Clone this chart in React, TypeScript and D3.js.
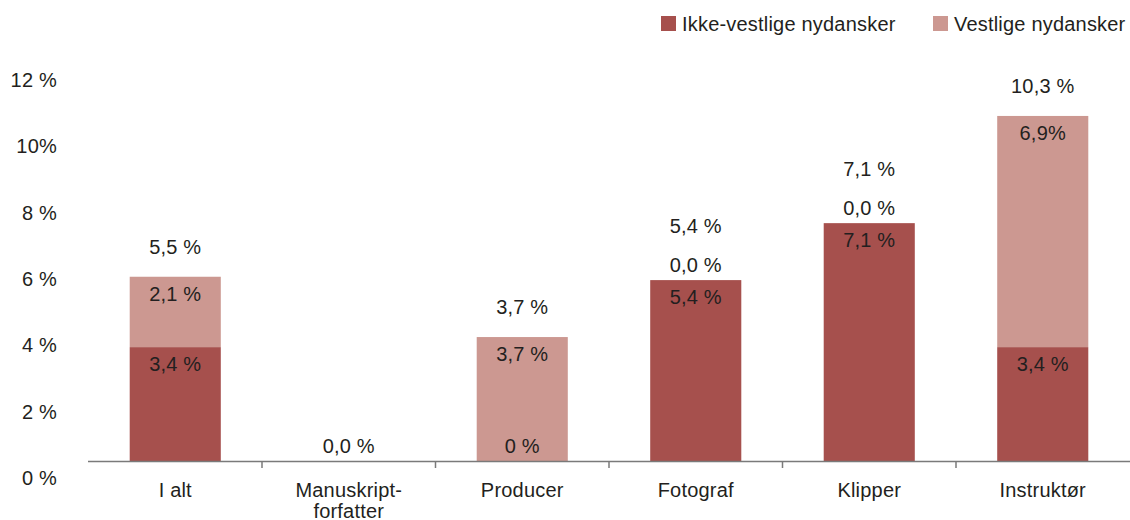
import React from "react";
import * as d3 from "d3";

const categories = ["I alt", "Manuskript-\nforfatter", "Producer", "Fotograf", "Klipper", "Instruktør"];
const ikkeVestlige = [3.4, 0, 0, 5.4, 7.1, 3.4];
const vestlige = [2.1, 0, 3.7, 0, 0, 6.9];
const ikkeLabels: (string | null)[] = ["3,4 %", null, "0 %", "5,4 %", "7,1 %", "3,4 %"];
const vestLabels: (string | null)[] = ["2,1 %", "0,0 %", "3,7 %", "0,0 %", "0,0 %", "6,9%"];
const totalLabels: (string | null)[] = ["5,5 %", null, "3,7 %", "5,4 %", "7,1 %", "10,3 %"];
const yTicks = [0, 2, 4, 6, 8, 10, 12];
const yTickLabels = ["0 %", "2 %", "4 %", "6 %", "8 %", "10%", "12 %"];
const seriesNames = ["Ikke-vestlige nydansker", "Vestlige nydansker"];
const colors = ["#a6504d", "#cc9891"];

const W = 1130;
const H = 520;
const FONT = "'Liberation Sans', Arial, sans-serif";
const TXT = "#231f20";
const FS = 20;
const LS = 0.2;

export default function App() {
  const x = d3
    .scaleBand<string>()
    .domain(categories)
    .range([88.5, 1129.5])
    .paddingInner(0.475)
    .paddingOuter(0.2375);
  const y = d3.scaleLinear().domain([0, 12]).range([461, 59]);
  const yLabel = d3.scaleLinear().domain([0, 12]).range([478, 80]);
  const bw = x.bandwidth();
  const base = y(0);

  const boundaries: number[] = [];
  for (let i = 0; i < categories.length - 1; i++) {
    const a = x(categories[i])! + bw;
    const b = x(categories[i + 1])!;
    boundaries.push((a + b) / 2);
  }

  const T = (props: any) => (
    <text
      dominantBaseline="central"
      fontSize={FS}
      letterSpacing={LS}
      fill={TXT}
      {...props}
    />
  );

  return (
    <svg
      width={W}
      height={H}
      style={{ position: "absolute", left: 0, top: 0, background: "#fff" }}
      fontFamily={FONT}
    >
      {/* y tick labels */}
      {yTicks.map((t, i) => (
        <T key={t} x={57} y={yLabel(t)} textAnchor="end">
          {yTickLabels[i]}
        </T>
      ))}

      {/* bars */}
      {categories.map((c, i) => {
        const x0 = x(c)!;
        const a = ikkeVestlige[i];
        const b = vestlige[i];
        return (
          <g key={c}>
            {a > 0 && (
              <rect x={x0} y={y(a)} width={bw} height={base - y(a)} fill={colors[0]} />
            )}
            {b > 0 && (
              <rect x={x0} y={y(a + b)} width={bw} height={y(a) - y(a + b)} fill={colors[1]} />
            )}
          </g>
        );
      })}

      {/* axis */}
      <line x1={88} x2={1130} y1={base + 0.5} y2={base + 0.5} stroke="#7a7a7a" strokeWidth={1.5} />
      {boundaries.map((bx, i) => (
        <line key={i} x1={bx} x2={bx} y1={base} y2={base + 7} stroke="#7a7a7a" strokeWidth={1.5} />
      ))}

      {/* value labels */}
      {categories.map((c, i) => {
        const cx = x(c)! + bw / 2;
        const a = ikkeVestlige[i];
        const b = vestlige[i];
        const top = y(a + b);
        const items: React.ReactNode[] = [];
        if (ikkeLabels[i]) {
          const yy = a > 0 ? y(a) + 17 : base - 15;
          items.push(
            <T key="a" x={cx} y={yy} textAnchor="middle">
              {ikkeLabels[i]}
            </T>
          );
        }
        let extra = 0;
        if (vestLabels[i]) {
          const yy = b > 0 ? y(a + b) + 17 : top - 15;
          if (b === 0) extra = 24;
          items.push(
            <T key="b" x={cx} y={yy} textAnchor="middle">
              {vestLabels[i]}
            </T>
          );
        }
        if (totalLabels[i]) {
          items.push(
            <T key="t" x={cx} y={top - 30 - extra} textAnchor="middle">
              {totalLabels[i]}
            </T>
          );
        }
        return <g key={c}>{items}</g>;
      })}

      {/* category labels */}
      {categories.map((c) => {
        const cx = x(c)! + bw / 2;
        const lines = c.split("\n");
        return (
          <T key={c} x={cx} y={490} textAnchor="middle">
            {lines.map((l, j) => (
              <tspan key={j} x={cx} dy={j === 0 ? 0 : 20.5}>
                {l}
              </tspan>
            ))}
          </T>
        );
      })}

      {/* legend */}
      {seriesNames.map((s, i) => {
        const lx = [661, 933][i];
        return (
          <g key={s}>
            <rect x={lx} y={16} width={15} height={15} fill={colors[i]} />
            <T x={lx + 21} y={23.5}>
              {s}
            </T>
          </g>
        );
      })}
    </svg>
  );
}
